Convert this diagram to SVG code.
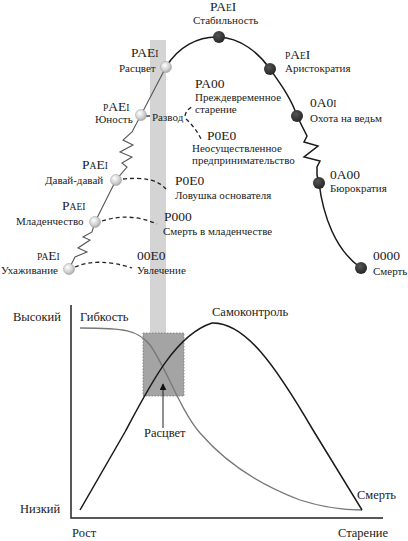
<svg xmlns="http://www.w3.org/2000/svg" width="408" height="541" viewBox="0 0 408 541">
<defs>
<radialGradient id="ball" cx="0.38" cy="0.35" r="0.7">
<stop offset="0" stop-color="#ffffff"/>
<stop offset="0.6" stop-color="#d2d2d2"/>
<stop offset="1" stop-color="#a8a8a8"/>
</radialGradient>
<radialGradient id="dball" cx="0.4" cy="0.35" r="0.7">
<stop offset="0" stop-color="#555"/>
<stop offset="1" stop-color="#222"/>
</radialGradient>
<marker id="arr" viewBox="0 0 10 10" refX="9" refY="5" markerWidth="7" markerHeight="7" markerUnits="userSpaceOnUse" orient="auto">
<path d="M0,0 L10,5 L0,10 Z" fill="#111"/>
</marker>
<style>
text{font-family:"Liberation Serif","DejaVu Serif",serif;fill:#222}
.lbl{font-size:11px}
.code{font-size:13.5px}
.s{font-size:9.5px}
.big{font-size:12.5px}
.lt{fill:url(#ball);stroke:#9a9a9a;stroke-width:0.5}
.dk{fill:url(#dball)}
.dash{fill:none;stroke:#222;stroke-width:1.3;stroke-dasharray:4 3}
.curve{fill:none;stroke:#1a1a1a;stroke-width:1.5}
.gline{fill:none;stroke:#555;stroke-width:1.1}
</style>
</defs>
<rect width="408" height="541" fill="#fff"/>
<g id="band">
<rect x="150" y="40" width="16" height="293" fill="#d4d4d4"/>
<rect x="143" y="333" width="41" height="63" fill="#a4a4a4" stroke="#777" stroke-width="0.8" stroke-dasharray="1.5 1.5"/>
</g>
<g id="connectors">
<path class="curve" d="M166,67 C178,47 198,36 219,37 C240,38 258,52 270,69 C282,86 292,100 297,116 L307,136 L304,142 L318,146 L304,157 L320,161 L317,167 L317,175 C318,178 318,181 319,183 C323,215 335,250 361,268"/>
<path class="gline" d="M69,269 L75,257 L87,252 L78,248 L90,240 L83,237 L92,232 L95,222 L116,180 L127,167 L122,163 L132,157 L120,152 L133,145 L123,140 L132,132 L141,115 L166,67"/>
<path class="dash" d="M75,267 Q97,257 132,268"/>
<path class="dash" d="M102,221 Q130,212 157,224"/>
<path class="dash" d="M123,179 C145,177 158,180 166,189"/>
<path class="dash" d="M146,116 L151,116"/>
<path class="dash" d="M185,116 Q186,110 192,107"/>
<path class="dash" d="M186,119 Q196,128 202,141"/>
</g>
<g id="n-stab"><circle class="dk" cx="219" cy="37" r="6"/>
<text class="code" x="210" y="10.5">PA<tspan class="s">E</tspan>I</text>
<text class="lbl" x="193" y="23.5">Стабильность</text></g>
<g id="n-rascvet"><circle class="lt" cx="166" cy="67" r="5.5"/>
<text class="code" x="131" y="56.5">PAE<tspan class="s">I</tspan></text>
<text class="lbl" x="119" y="71.5">Расцвет</text></g>
<g id="n-aristo"><circle class="dk" cx="270" cy="69" r="6"/>
<text class="code" x="285" y="58.5"><tspan class="s">P</tspan>A<tspan class="s">E</tspan>I</text>
<text class="lbl" x="285" y="71.5">Аристократия</text></g>
<g id="n-ohota"><circle class="dk" cx="297" cy="116" r="6"/>
<text class="code" x="310" y="106.5">0A0<tspan class="s">I</tspan></text>
<text class="lbl" x="310" y="121.5">Охота на ведьм</text></g>
<g id="n-buro"><circle class="dk" cx="319" cy="183" r="6"/>
<text class="code" x="330" y="178.5">0A00</text>
<text class="lbl" x="330" y="191.5">Бюрократия</text></g>
<g id="n-death"><circle class="dk" cx="361" cy="268" r="6"/>
<text class="code" x="373" y="259.5">0000</text>
<text class="lbl" x="373" y="275">Смерть</text></g>
<g id="n-youth"><circle class="lt" cx="141" cy="115" r="5.5"/>
<text class="code" x="103" y="110.5"><tspan class="s">P</tspan>AE<tspan class="s">I</tspan></text>
<text class="lbl" x="95" y="122.5">Юность</text></g>
<g id="n-divorce"><text class="lbl" x="152" y="121">Развод</text></g>
<g id="n-pa00"><text class="code" x="195" y="87.5">PA00</text>
<text class="lbl" x="195" y="101">Преждевременное</text>
<text class="lbl" x="195" y="113">старение</text></g>
<g id="n-p0e0a"><text class="code" x="207" y="139.5">P0E0</text>
<text class="lbl" x="192" y="152">Неосуществленное</text>
<text class="lbl" x="192" y="164">предпринимательство</text></g>
<g id="n-gogo"><circle class="lt" cx="116" cy="180" r="5.5"/>
<text class="code" x="82" y="168.5">P<tspan class="s">A</tspan>E<tspan class="s">I</tspan></text>
<text class="lbl" x="45" y="183.5">Давай-давай</text></g>
<g id="n-p0e0b"><text class="code" x="175" y="184.5">P0E0</text>
<text class="lbl" x="175" y="198.5">Ловушка основателя</text></g>
<g id="n-infancy"><circle class="lt" cx="95" cy="222" r="5.5"/>
<text class="code" x="62" y="209.5">P<tspan class="s">AEI</tspan></text>
<text class="lbl" x="16" y="224.5">Младенчество</text></g>
<g id="n-p000"><text class="code" x="164" y="220.5">P000</text>
<text class="lbl" x="163" y="234.5">Смерть в младенчестве</text></g>
<g id="n-court"><circle class="lt" cx="69" cy="269" r="5.5"/>
<text class="code" x="37" y="259.5"><tspan class="s">PA</tspan>E<tspan class="s">I</tspan></text>
<text class="lbl" x="1" y="273.5">Ухаживание</text></g>
<g id="n-00e0"><text class="code" x="137" y="259.5">00E0</text>
<text class="lbl" x="137" y="273.5">Увлечение</text></g>
<g id="chart">
<path d="M71,305 L71,518 L383,518" fill="none" stroke="#222" stroke-width="1.5"/>
<path d="M80,328 C125,328 138,330 150,345 C165,365 180,410 200,433 C225,462 260,485 300,500 C325,508 345,510 362,510" fill="none" stroke="#777" stroke-width="1.3"/>
<path d="M80,510 L125,432 C150,385 175,335 212,323 C245,322 275,365 313,430 L362,510" fill="none" stroke="#1a1a1a" stroke-width="1.5"/>
<path d="M163,428 L163,384" fill="none" stroke="#222" stroke-width="1" marker-end="url(#arr)"/>
<text class="big" x="13" y="321">Высокий</text>
<text class="big" x="80" y="321">Гибкость</text>
<text class="big" x="212" y="316">Самоконтроль</text>
<text class="big" x="144" y="437">Расцвет</text>
<text class="big" x="357" y="499">Смерть</text>
<text class="big" x="20" y="513">Низкий</text>
<text class="big" x="72" y="537">Рост</text>
<text class="big" x="338" y="537">Старение</text>
</g>
</svg>
